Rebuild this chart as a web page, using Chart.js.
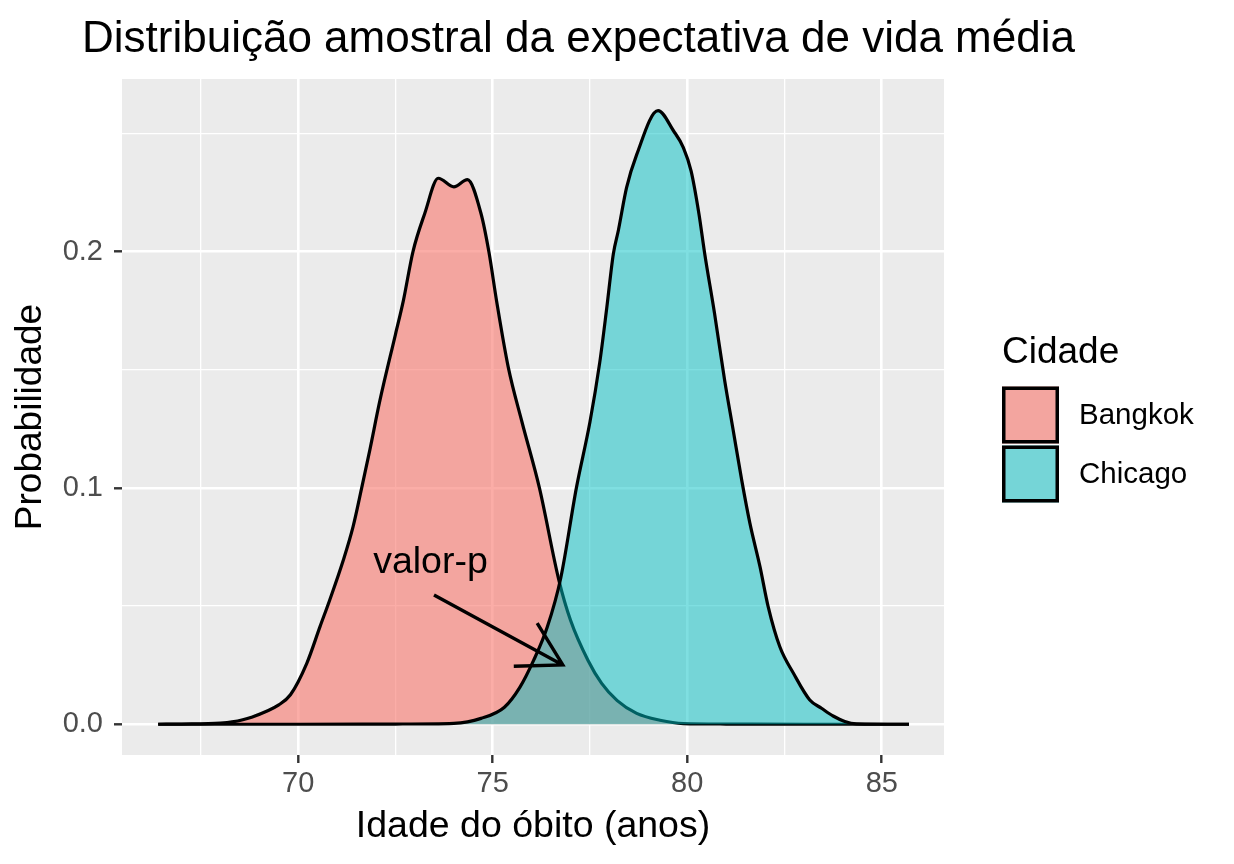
<!DOCTYPE html>
<html lang="pt">
<head>
<meta charset="UTF-8">
<title>Distribuição amostral da expectativa de vida média</title>
<script src="https://cdn.jsdelivr.net/npm/chart.js"></script>
<style>
  html, body { margin: 0; padding: 0; background: #fff; }
  #wrap { width: 1234px; height: 864px; position: relative; }
</style>
</head>
<body>
<div id="wrap"><canvas id="chart"></canvas></div>
<script>
const titleText = 'Distribuição amostral da expectativa de vida média';
const xTitle = 'Idade do óbito (anos)';
const yTitle = 'Probabilidade';
const legendTitle = 'Cidade';
const cities = ['Bangkok', 'Chicago'];

const bangkokX = [66.4, 67.0, 68.0, 68.3, 68.8, 69.5, 69.8, 70.22, 70.56, 70.81, 71.16, 71.41, 71.63, 71.84, 72.1, 72.5, 72.7, 72.95, 73.25, 73.6, 74.0, 74.35, 74.7, 74.9, 75.1, 75.4, 75.75, 76.2, 76.7, 77.0, 77.45, 77.8, 78.2, 78.7, 79.3, 79.9, 81.0, 83.0, 85.7];
const bangkokY = [0, 0.0001, 0.0005, 0.001, 0.003, 0.0082, 0.0125, 0.0258, 0.0413, 0.0526, 0.0695, 0.0836, 0.0999, 0.116, 0.137, 0.165, 0.179, 0.200, 0.216, 0.231, 0.2274, 0.2304, 0.216, 0.200, 0.179, 0.151, 0.128, 0.100, 0.061, 0.044, 0.027, 0.0173, 0.010, 0.0046, 0.0017, 0.0003, 0.0001, 0, 0];

const chicagoX = [66.4, 70.0, 72.5, 74.0, 74.7, 75.3, 75.7, 76.05, 76.4, 76.75, 77.15, 77.5, 77.75, 77.93, 78.1, 78.23, 78.44, 78.7, 79.25, 79.65, 79.9, 80.1, 80.3, 80.45, 80.7, 80.96, 81.18, 81.4, 81.61, 81.87, 82.08, 82.38, 82.73, 83.15, 83.45, 83.75, 84.05, 84.35, 85.7];
const chicagoY = [0, 0, 0.0001, 0.0004, 0.0025, 0.0072, 0.0157, 0.027, 0.041, 0.062, 0.100, 0.128, 0.153, 0.176, 0.199, 0.209, 0.227, 0.241, 0.2596, 0.251, 0.244, 0.234, 0.216, 0.199, 0.174, 0.1457, 0.1245, 0.1033, 0.0851, 0.0667, 0.0498, 0.0328, 0.0216, 0.0103, 0.0068, 0.0035, 0.0012, 0.0002, 0];

const xGrid = [67.5, 70, 72.5, 75, 77.5, 80, 82.5, 85];
const yGrid = [0, 0.05, 0.1, 0.15, 0.2, 0.25];

// annotation "valor-p" with arrow, in data units
const labelText = 'valor-p';
const labelAt = [73.40, 0.064];
const arrowFrom = [73.49, 0.0547];
const arrowTo = [76.80, 0.0251];

const fillColors = ['rgba(248,118,109,0.6)', 'rgba(0,191,196,0.5)'];
const FONT = "'Liberation Sans', Arial, Helvetica, sans-serif";
Chart.defaults.font.family = FONT;

const toPoints = (xs, ys) => xs.map((x, i) => ({ x: x, y: ys[i] }));
const isMajorX = v => Math.abs(v % 5) < 1e-6;
const isMajorY = v => Math.abs(v * 10 - Math.round(v * 10)) < 1e-6;

const ggDecor = {
  id: 'ggDecor',
  beforeDraw(chart) {
    const { ctx, chartArea: a } = chart;
    ctx.save();
    ctx.fillStyle = '#EBEBEB';
    ctx.fillRect(a.left, a.top, a.right - a.left, a.bottom - a.top);
    ctx.restore();
  },
  afterDatasetsDraw(chart) {
    const { ctx, scales: { x, y } } = chart;
    ctx.save();
    ctx.fillStyle = '#000';
    ctx.font = '37.5px ' + FONT;
    ctx.textAlign = 'center';
    ctx.textBaseline = 'alphabetic';
    ctx.fillText(labelText, x.getPixelForValue(labelAt[0]), y.getPixelForValue(labelAt[1]));
    const x0 = x.getPixelForValue(arrowFrom[0]), y0 = y.getPixelForValue(arrowFrom[1]);
    const x1 = x.getPixelForValue(arrowTo[0]), y1 = y.getPixelForValue(arrowTo[1]);
    const ang = Math.atan2(y1 - y0, x1 - x0);
    const len = 49;
    ctx.strokeStyle = '#000';
    ctx.lineWidth = 3.4;
    ctx.beginPath();
    ctx.moveTo(x0, y0);
    ctx.lineTo(x1, y1);
    ctx.moveTo(x1 - len * Math.cos(ang - Math.PI / 6), y1 - len * Math.sin(ang - Math.PI / 6));
    ctx.lineTo(x1, y1);
    ctx.lineTo(x1 - len * Math.cos(ang + Math.PI / 6), y1 - len * Math.sin(ang + Math.PI / 6));
    ctx.stroke();
    ctx.restore();
  },
  afterDraw(chart) {
    const ctx = chart.ctx;
    ctx.save();
    ctx.fillStyle = '#000';
    ctx.textAlign = 'left';
    ctx.textBaseline = 'alphabetic';
    ctx.font = '44px ' + FONT;
    ctx.fillText(titleText, 82, 52);
    // legend
    ctx.font = '37px ' + FONT;
    ctx.fillText(legendTitle, 1002, 363);
    const bx = 1002, size = 57;
    const tops = [386.5, 445.5];
    ctx.font = '29.5px ' + FONT;
    ctx.textBaseline = 'middle';
    cities.forEach((c, i) => {
      ctx.fillStyle = '#EBEBEB';
      ctx.fillRect(bx, tops[i], size, size);
      ctx.fillStyle = fillColors[i];
      ctx.fillRect(bx, tops[i], size, size);
      ctx.strokeStyle = '#000';
      ctx.lineWidth = 3.5;
      ctx.strokeRect(bx + 1.75, tops[i] + 1.75, size - 3.5, size - 3.5);
      ctx.fillStyle = '#000';
      ctx.fillText(c, 1079, tops[i] + size / 2 + 1);
    });
    ctx.restore();
  }
};

new Chart(document.getElementById('chart'), {
  type: 'line',
  data: {
    datasets: [
      { label: cities[0], data: toPoints(bangkokX, bangkokY), order: 1,
        borderColor: '#000', borderWidth: 3.2, backgroundColor: fillColors[0],
        fill: 'origin', pointRadius: 0, cubicInterpolationMode: 'monotone' },
      { label: cities[1], data: toPoints(chicagoX, chicagoY), order: 0,
        borderColor: '#000', borderWidth: 3.2, backgroundColor: fillColors[1],
        fill: 'origin', pointRadius: 0, cubicInterpolationMode: 'monotone' }
    ]
  },
  options: {
    responsive: true,
    maintainAspectRatio: false,
    animation: false,
    events: [],
    layout: { padding: { top: 79, right: 290, bottom: 0, left: 0 } },
    plugins: { legend: { display: false }, title: { display: false }, tooltip: { enabled: false } },
    scales: {
      x: {
        type: 'linear', min: 65.47, max: 86.6,
        afterBuildTicks: s => { s.ticks = xGrid.map(v => ({ value: v })); },
        afterFit: s => { s.height = 109; },
        border: { display: false },
        grid: {
          color: '#FFFFFF',
          lineWidth: c => isMajorX(c.tick.value) ? 2.6 : 1.3,
          tickColor: c => isMajorX(c.tick.value) ? '#333333' : 'rgba(0,0,0,0)',
          tickLength: 8, tickWidth: 2.4
        },
        ticks: {
          autoSkip: false, maxRotation: 0, padding: 4, color: '#4D4D4D', font: { size: 29 },
          callback: v => isMajorX(v) ? String(v) : ''
        },
        title: { display: true, text: xTitle, color: '#000', font: { size: 37.5 }, padding: { top: 0, bottom: 15 } }
      },
      y: {
        type: 'linear', min: -0.013, max: 0.273,
        afterBuildTicks: s => { s.ticks = yGrid.map(v => ({ value: v })); },
        afterFit: s => { s.width = 122; },
        border: { display: false },
        grid: {
          color: '#FFFFFF',
          lineWidth: c => isMajorY(c.tick.value) ? 2.6 : 1.3,
          tickColor: c => isMajorY(c.tick.value) ? '#333333' : 'rgba(0,0,0,0)',
          tickLength: 8, tickWidth: 2.4
        },
        ticks: {
          autoSkip: false, padding: 11, color: '#4D4D4D', font: { size: 29 },
          callback: v => isMajorY(v) ? v.toFixed(1) : ''
        },
        title: { display: true, text: yTitle, color: '#000', font: { size: 37 }, padding: { top: 9, bottom: 0 } }
      }
    }
  },
  plugins: [ggDecor]
});
</script>
</body>
</html>
